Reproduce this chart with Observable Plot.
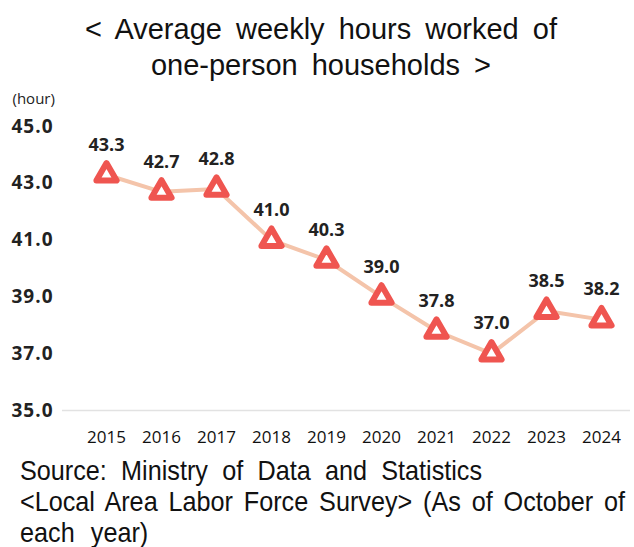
<!DOCTYPE html>
<html><head><meta charset="utf-8">
<script src="https://cdn.jsdelivr.net/npm/d3@7"></script>
<script src="https://cdn.jsdelivr.net/npm/@observablehq/plot@0.6"></script>
<style>
body{margin:0;background:#fff;width:634px;height:547px;overflow:hidden;font-family:"Liberation Sans",Arial,sans-serif;}
#title{position:absolute;left:0;top:11px;width:642px;text-align:center;font-size:29px;line-height:36px;color:#111;word-spacing:6px;}
#chart{position:absolute;left:0;top:85px;}
#cap{position:absolute;left:20px;top:455px;font-size:28px;line-height:31px;color:#111;white-space:nowrap;}
#cap span{display:inline-block;transform:scaleX(0.9);transform-origin:0 50%;}
g[aria-label="y-axis tick label"] text{letter-spacing:1px;}
</style></head><body>
<div id="title">&lt; Average weekly hours worked of<br>one-person households &gt;</div>
<div id="chart"></div>
<div id="cap"><span data-w="462">Source: Ministry of Data and Statistics</span><br><span data-w="605">&lt;Local Area Labor Force Survey&gt; (As of October of</span><br><span data-w="128">each year)</span></div>
<script>
const years = ["2015","2016","2017","2018","2019","2020","2021","2022","2023","2024"];
const hours = [43.3,42.7,42.8,41.0,40.3,39.0,37.8,37.0,38.5,38.2];
const yTicks = [35,37,39,41,43,45];
const data = years.map((y,i)=>({year:y, value:hours[i]}));
const fmt = d3.format(".1f");
const font = "'Open Sans','Noto Sans',sans-serif";
const plot = Plot.plot({
  width: 634, height: 370,
  marginLeft: 62, marginRight: 4, marginTop: 41, marginBottom: 45,
  style: {fontFamily: font, background: "transparent"},
  x: {type: "point", domain: years, range: [105, 602], padding: 0},
  y: {domain: [35, 45]},
  marks: [
    Plot.ruleY([35], {stroke: "#e2e2e2", strokeWidth: 1.5}),
    Plot.axisY({ticks: yTicks, tickFormat: fmt, tickSize: 0, textAnchor: "start", dx: -42, fontSize: 19, fontWeight: "bold", fill: "#222", label: null}),
    Plot.axisX({tickSize: 0, tickPadding: 20, fontSize: 17, fill: "#111", label: null}),
    Plot.line(data, {x: "year", y: "value", stroke: "#f4c4aa", strokeWidth: 4}),
    Plot.dot(data, {x: "year", y: "value", symbol: "triangle", r: 7.5, fill: "white", stroke: "#ef5550", strokeWidth: 6, strokeLinejoin: "round"}),
    Plot.text(data, {x: "year", y: "value", text: d => fmt(d.value), dy: -30, fontSize: 18, fontWeight: "bold", fill: "#222"}),
    Plot.text(["(hour)"], {frameAnchor: "top-left", dx: -50, dy: -33, textAnchor: "start", fontSize: 15, fill: "#222"})
  ]
});
document.getElementById("chart").appendChild(plot);
// stretch caption word spacing so each line spans the reference's width
document.querySelectorAll("#cap span").forEach(s => {
  const target = +s.dataset.w / 0.9;
  const n = (s.textContent.match(/ /g) || []).length;
  const w = s.offsetWidth;
  if (n) s.style.wordSpacing = ((target - w) / n) + "px";
});
</script>
</body></html>
